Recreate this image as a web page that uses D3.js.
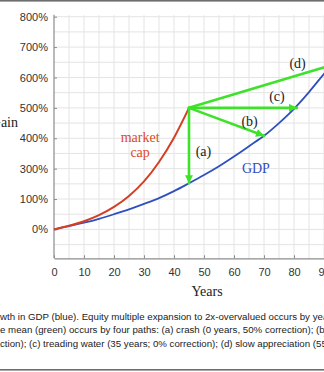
<!DOCTYPE html>
<html>
<head>
<meta charset="utf-8">
<script src="https://cdn.jsdelivr.net/npm/d3@7"></script>
<style>
  html, body { margin: 0; padding: 0; background: #fff; overflow: hidden; }
  svg { display: block; }
</style>
</head>
<body>
<svg id="chart" width="324" height="372"></svg>
<script>
// GDP growth path (cumulative gain, %) sampled every 5 years
const gdpYears = [0, 5, 10, 15, 20, 25, 30, 35, 40, 45, 50, 55, 60, 65, 70, 75, 80, 85, 90, 95, 100];
const gdpGain  = [0, 10.5, 22, 35, 50, 66, 84, 103, 126, 152, 179, 208, 240, 274, 308, 350, 397, 452, 512, 570, 640];

// Market cap path during multiple expansion (cumulative gain, %)
const capYears = [0, 5, 10, 15, 20, 25, 30, 35, 40, 45];
const capGain  = [0, 12, 27, 47, 74, 110, 158, 222, 302, 400];

// Four paths of reversion to the mean, all starting at the market-cap peak
const pathLabels   = ["(a)", "(b)", "(c)", "(d)"];
const pathEndYears = [45, 70, 81, 95];
const pathEndGain  = [152, 308, 400, 548];

// Axis ticks
const xTickValues = [0, 10, 20, 30, 40, 50, 60, 70, 80, 90, 100];
const yTickValues = [0, 100, 200, 300, 400, 500, 600, 700];
const yTickLabels = ["0%", "100%", "300%", "400%", "500%", "600%", "700%", "800%"];

// Caption lines
const captionLines = [
  { prefix: "gro",   text: "wth in GDP (blue). Equity multiple expansion to 2x-overvalued occurs by year 45." },
  { prefix: "to th", text: "e mean (green) occurs by four paths: (a) crash (0 years, 50% correction); (b)" },
  { prefix: "corre", text: "ction); (c) treading water (35 years; 0% correction); (d) slow appreciation (55 years" }
];

const svg = d3.select("#chart");
const W = 324, H = 372;

const x = d3.scaleLinear().domain([0, 100]).range([54, 354]);
const y = d3.scaleLinear().domain([-95, 700]).range([258.3, 16.7]);

const serif = "'Liberation Serif', 'DejaVu Serif', serif";
const sans = "'Liberation Sans', Arial, sans-serif";

// frame lines
svg.append("rect").attr("x", 0).attr("y", 0).attr("width", W).attr("height", 1.6).attr("fill", "#6e6e6e");
svg.append("rect").attr("x", 0).attr("y", 369).attr("width", W).attr("height", 1.6).attr("fill", "#6e6e6e");

// grid
const grid = svg.append("g").attr("stroke", "#e4e4e4").attr("stroke-width", 1);
d3.range(5, 101, 5).forEach(v => {
  grid.append("line")
    .attr("x1", x(v)).attr("x2", x(v))
    .attr("y1", y(700) - 1.5).attr("y2", y.range()[0]);
});
d3.range(-50, 701, 50).forEach(v => {
  grid.append("line")
    .attr("x1", x(0)).attr("x2", x(100))
    .attr("y1", y(v)).attr("y2", y(v));
});

// axes
const xAxis = d3.axisBottom(x)
  .tickValues(xTickValues)
  .tickFormat(d3.format("d"))
  .tickSizeInner(-3).tickSizeOuter(0).tickPadding(10);
const yAxis = d3.axisLeft(y)
  .tickValues(yTickValues)
  .tickFormat((d, i) => yTickLabels[i])
  .tickSizeInner(-3).tickSizeOuter(0).tickPadding(6);

const gx = svg.append("g").attr("transform", `translate(0,${y.range()[0]})`).call(xAxis);
const gy = svg.append("g").attr("transform", `translate(${x(0)},0)`).call(yAxis);
gy.select(".domain").attr("d", `M0,${y(700) - 2}V${y.range()[0]}`);
[gx, gy].forEach(g => {
  g.select(".domain").attr("stroke", "#8c8c8c").attr("stroke-width", 1.2);
  g.selectAll(".tick line").attr("stroke", "#8c8c8c");
  g.selectAll(".tick text").attr("fill", "#333").style("font-family", sans).style("font-size", "11px");
});

// series
const line = d3.line().x(d => x(d[0])).y(d => y(d[1])).curve(d3.curveMonotoneX);

svg.append("path")
  .datum(gdpYears.map((t, i) => [t, gdpGain[i]]))
  .attr("d", line)
  .attr("fill", "none").attr("stroke", "#2f4fbf").attr("stroke-width", 1.8);

svg.append("path")
  .datum(capYears.map((t, i) => [t, capGain[i]]))
  .attr("d", line)
  .attr("fill", "none").attr("stroke", "#d43f24").attr("stroke-width", 2);

// reversion paths
const green = "#3fe22a";
svg.append("defs").append("marker")
  .attr("id", "arrow")
  .attr("markerUnits", "userSpaceOnUse")
  .attr("viewBox", "0 0 10 10")
  .attr("refX", 10).attr("refY", 5)
  .attr("markerWidth", 10).attr("markerHeight", 8)
  .attr("orient", "auto")
  .append("path").attr("d", "M0,0L10,5L0,10Z").attr("fill", green);

const startYear = capYears[capYears.length - 1];
const startGain = capGain[capGain.length - 1];
pathLabels.forEach((lab, i) => {
  svg.append("line")
    .attr("x1", x(startYear)).attr("y1", y(startGain))
    .attr("x2", x(pathEndYears[i])).attr("y2", y(pathEndGain[i]))
    .attr("stroke", green).attr("stroke-width", 2.6)
    .attr("stroke-linecap", "round")
    .attr("marker-end", "url(#arrow)");
});

// path labels
const labelAt = [[49.8, 258], [65.2, 356], [74.3, 440], [81.2, 548]];
pathLabels.forEach((lab, i) => {
  svg.append("text")
    .attr("x", x(labelAt[i][0])).attr("y", y(labelAt[i][1]))
    .attr("dy", "0.35em").attr("text-anchor", "middle")
    .style("font-family", serif).style("font-size", "14px").attr("fill", "#222")
    .text(lab);
});

// series labels
const capLabel = svg.append("text")
  .attr("text-anchor", "middle")
  .style("font-family", serif).style("font-size", "14px").attr("fill", "#dc4a26");
capLabel.append("tspan").attr("x", x(28.7)).attr("y", 142).text("market");
capLabel.append("tspan").attr("x", x(28.7)).attr("y", 157).text("cap");

svg.append("text")
  .attr("x", x(67.3)).attr("y", 173).attr("text-anchor", "middle")
  .style("font-family", serif).style("font-size", "14px").attr("fill", "#2f4fbf")
  .text("GDP");

// axis titles
svg.append("text")
  .attr("x", x(51)).attr("y", 296).attr("text-anchor", "middle")
  .style("font-family", serif).style("font-size", "14px").attr("fill", "#222")
  .text("Years");
svg.append("text")
  .attr("x", 18).attr("y", 127).attr("text-anchor", "end")
  .style("font-family", serif).style("font-size", "14px").attr("fill", "#222")
  .text("Gain");

// caption, continuing from the left margin
const cap = svg.append("g").style("font-family", sans).style("font-size", "9.7px").attr("fill", "#222");
const probe = cap.append("text").attr("x", -1000).attr("y", -1000);
captionLines.forEach((c, i) => {
  probe.text(c.prefix);
  const w = probe.node().getComputedTextLength();
  cap.append("text")
    .attr("x", -w).attr("y", 319.5 + i * 13.5)
    .text(c.prefix + c.text);
});
probe.remove();
</script>
</body>
</html>
